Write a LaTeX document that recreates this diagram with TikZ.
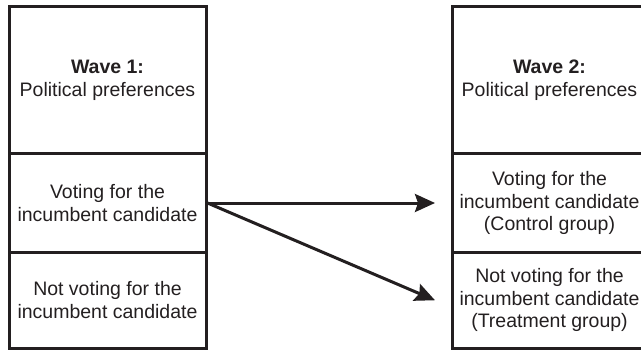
\documentclass[tikz,border=0pt]{standalone}
\usepackage{fontspec}
\setmainfont{Liberation Sans}
\usetikzlibrary{arrows.meta}
\definecolor{ink}{HTML}{231F20}
\begin{document}
\begin{tikzpicture}[x=1pt,y=-1pt,
  sec/.style={draw=ink, line width=3pt, rectangle, inner sep=0pt,
    minimum width=197pt, align=center, text=ink,
    font=\fontsize{19.5}{22.5}\selectfont},
  conn/.style={draw=ink, line width=3pt, -{Stealth[length=20pt,width=18pt,inset=3pt]}}]
\useasboundingbox (0,0) rectangle (641,353);
\clip (0,0) rectangle (641,353);
% left column
\node[sec, minimum height=147.5pt] (w1) at (107.5,80.25) {\textbf{Wave 1:}\\Political preferences};
\node[sec, minimum height=98pt] (v1) at (107.5,203) {Voting for the\\incumbent candidate};
\node[sec, minimum height=96.5pt] (n1) at (107.5,300.25) {Not voting for the\\incumbent candidate};
% right column
\node[sec, minimum height=147.5pt, minimum width=194pt] (w2) at (549.5,80.25) {\textbf{Wave 2:}\\Political preferences};
\node[sec, minimum height=98pt, minimum width=194pt] (v2) at (549.5,203) {Voting for the\\incumbent candidate\\(Control group)};
\node[sec, minimum height=96.5pt, minimum width=194pt] (n2) at (549.5,300.25) {Not voting for the\\incumbent candidate\\(Treatment group)};
% arrows
\draw[conn] (v1.east) -- ([xshift=-16pt]v2.west);
\draw[conn] (v1.east) -- ([xshift=-16pt]n2.west);
\end{tikzpicture}
\end{document}
